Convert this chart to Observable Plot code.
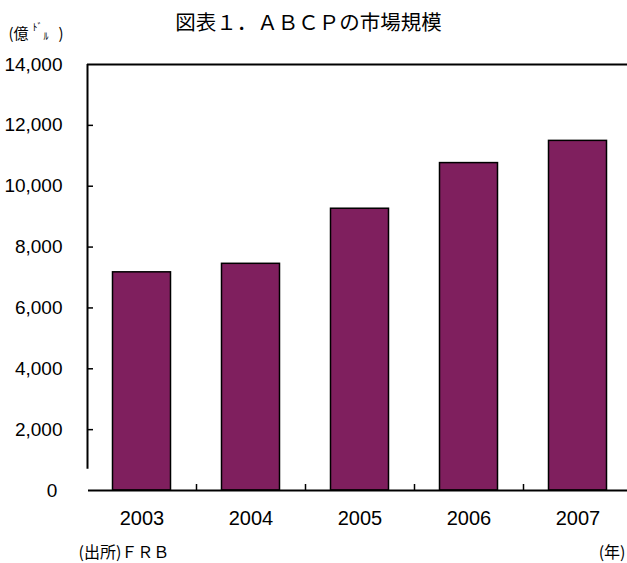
<!DOCTYPE html>
<html>
<head>
<meta charset="utf-8">
<script src="https://cdn.jsdelivr.net/npm/d3@7"></script>
<script src="https://cdn.jsdelivr.net/npm/@observablehq/plot@0.6"></script>
<style>
  html, body { margin: 0; padding: 0; background: #fff; }
</style>
</head>
<body>
<div id="chart"></div>
<script>
const years = [2003, 2004, 2005, 2006, 2007];
const values = [7170, 7450, 9260, 10760, 11490];
const yTickValues = [0, 2000, 4000, 6000, 8000, 10000, 12000, 14000];
const yInnerTicks = [2000, 4000, 6000, 8000, 10000, 12000];
const xBoundaries = [2003.5, 2004.5, 2005.5, 2006.5];
const title = "図表１．ＡＢＣＰの市場規模";
const source = "(出所)ＦＲＢ";
const xUnit = "(年)";

const data = years.map((year, i) => ({year, value: values[i]}));

const latin = "Liberation Sans, Arial, sans-serif";
const cjk = "Noto Sans CJK JP, sans-serif";

const chart = Plot.plot({
  width: 627,
  height: 563,
  marginLeft: 87,
  marginRight: -5,
  marginTop: 64,
  marginBottom: 73,
  style: {fontFamily: latin, background: "#fff", color: "#000", overflow: "hidden"},
  x: {type: "linear", domain: [2002.5, 2007.5], label: null},
  y: {domain: [0, 14000], label: null},
  marks: [
    Plot.rectY(data, {
      x1: d => d.year - 0.5,
      x2: d => d.year + 0.5,
      y: "value",
      insetLeft: 25.5,
      insetRight: 25.5,
      fill: "#7f1f5e",
      stroke: "#000",
      strokeWidth: 1.5
    }),
    Plot.ruleY([14000], {stroke: "#000", strokeWidth: 2}),
    Plot.ruleY([0], {stroke: "#000", strokeWidth: 2, insetLeft: 1}),
    Plot.ruleX([2002.5], {y1: 700, y2: 14000, stroke: "#000", strokeWidth: 2}),
    Plot.axisY({
      ticks: yTickValues,
      tickSize: 0,
      tickPadding: 25,
      fontSize: 19,
      label: null,
      tickFormat: d => d === 0 ? "0\u00a0" : d3.format(",")(d)
    }),
    Plot.axisY({ticks: yInnerTicks, tickSize: -6, text: null, label: null, strokeWidth: 1.5}),
    Plot.axisX({
      ticks: years,
      tickSize: 0,
      tickPadding: 20,
      fontSize: 20,
      label: null,
      tickFormat: d => String(d)
    }),
    Plot.axisX({ticks: xBoundaries, tickSize: -6, text: null, label: null, strokeWidth: 1.5}),
    Plot.text([title], {
      frameAnchor: "top", dx: -51.5, dy: -41,
      fontSize: 20.5, fontFamily: cjk, lineAnchor: "middle", fill: "#000"
    }),
    Plot.text(["(億"], {
      frameAnchor: "top-left", dx: -79, dy: -30, textAnchor: "start",
      fontSize: 15, fontFamily: cjk, lineAnchor: "middle", fill: "#000"
    }),
    Plot.text(["ﾄﾞ"], {
      frameAnchor: "top-left", dx: -55, dy: -37, textAnchor: "start",
      fontSize: 10, fontFamily: cjk, lineAnchor: "middle", fill: "#000"
    }),
    Plot.text(["ﾙ"], {
      frameAnchor: "top-left", dx: -44, dy: -28, textAnchor: "start",
      fontSize: 10, fontFamily: cjk, lineAnchor: "middle", fill: "#000"
    }),
    Plot.text([")"], {
      frameAnchor: "top-left", dx: -29, dy: -30, textAnchor: "start",
      fontSize: 15, fontFamily: cjk, lineAnchor: "middle", fill: "#000"
    }),
    Plot.text([source], {
      frameAnchor: "bottom-left", dx: -9, dy: 62, textAnchor: "start",
      fontSize: 16, fontFamily: cjk, lineAnchor: "middle", fill: "#000"
    }),
    Plot.text([xUnit], {
      frameAnchor: "bottom-right", dx: -7, dy: 62, textAnchor: "end",
      fontSize: 16, fontFamily: cjk, lineAnchor: "middle", fill: "#000"
    })
  ]
});
document.getElementById("chart").appendChild(chart);
</script>
</body>
</html>
